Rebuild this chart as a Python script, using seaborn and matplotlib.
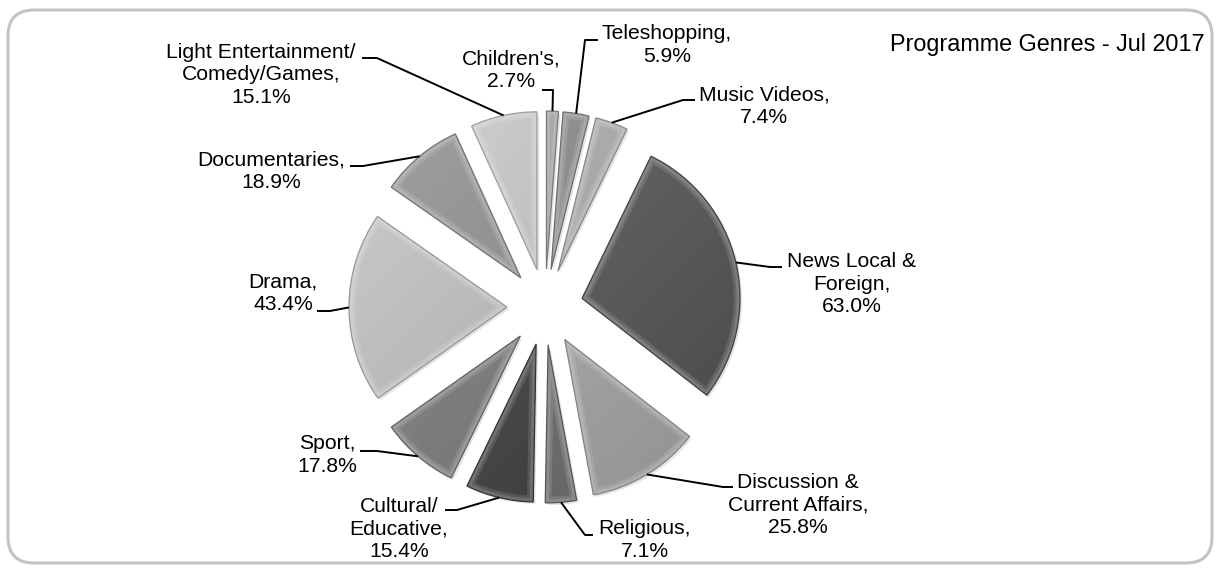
import numpy as np
import matplotlib
matplotlib.use("Agg")
import matplotlib.pyplot as plt
import matplotlib.patheffects as pe
from matplotlib.patches import Wedge, FancyBboxPatch
from matplotlib.colors import to_rgb
import seaborn as sns

# Programme genres, in clockwise order starting from 12 o'clock
genres = ["Children's,", "Teleshopping,", "Music Videos,", "News Local &\nForeign,",
          "Discussion &\nCurrent Affairs,", "Religious,", "Cultural/\nEducative,",
          "Sport,", "Drama,", "Documentaries,", "Light Entertainment/\nComedy/Games,"]
shares = [2.7, 5.9, 7.4, 63.0, 25.8, 7.1, 15.4, 17.8, 43.4, 18.9, 15.1]
greys = ["#9c9c9c", "#8a8a8a", "#acacac", "#555555", "#a8a8a8", "#6e6e6e",
         "#404040", "#7c7c7c", "#c2c2c2", "#929292", "#c9c9c9"]
title = "Programme Genres - Jul 2017"

W, H = 1219, 572
sns.set_theme(style="white")
plt.rcParams["font.family"] = ["Liberation Sans", "DejaVu Sans"]

fig = plt.figure(figsize=(W / 100, H / 100), dpi=100)
ax = fig.add_axes([0, 0, 1, 1])


def px(x, y):
    """Pixel position (origin top-left) to data coordinates."""
    return x, H - y


cx, cy = px(545, 307)
radius = 158
offset = 38

wedges, _ = ax.pie(shares, colors=greys, startangle=90, counterclock=False,
                   radius=radius, center=(cx, cy), explode=[offset] * len(shares),
                   wedgeprops=dict(linewidth=0))

for w, c in zip(wedges, greys):
    base = np.array(to_rgb(c))
    w.set_path_effects([pe.SimplePatchShadow(offset=(1.5, -1.5), shadow_rgbFace="#a0a0a0",
                                             alpha=0.28), pe.Normal()])
    # soft light-from-top-left shading
    x0, y0 = np.array(w.center) - w.r
    x1, y1 = np.array(w.center) + w.r
    gx, gy = np.meshgrid(np.linspace(0, 1, 64), np.linspace(0, 1, 64))
    grad = (gy - gx + 1) / 2
    im = ax.imshow(grad, extent=(x0, x1, y0, y1), origin="lower", cmap="gray",
                   alpha=0.14, vmin=0, vmax=1, zorder=w.get_zorder() + 0.1)
    im.set_clip_path(w)
    # bevel rim: a light band just inside the outline
    for lw, a in ((9, 0.12), (5, 0.14)):
        rim = Wedge(w.center, w.r, w.theta1, w.theta2, facecolor="none",
                    edgecolor="white", linewidth=lw, alpha=a, zorder=w.get_zorder() + 0.2)
        ax.add_patch(rim)
        rim.set_clip_path(w)
    edge = Wedge(w.center, w.r, w.theta1, w.theta2, facecolor="none",
                 edgecolor=tuple(base * 0.78), linewidth=0.9, zorder=w.get_zorder() + 0.3)
    ax.add_patch(edge)

# data labels and leader lines
label_pos = [(511, 70), (667, 45), (764, 106), (852, 284), (798, 505), (645, 540),
             (399, 529), (327, 455), (283, 293), (271, 171), (261, 75)]
leader_pts = [[(542, 90), (553, 90)], [(598, 40), (585, 40)], [(695, 100), (683, 100)],
              [(782, 267), (770, 267)], [(733, 487), (723, 487)], [(593, 535), (585, 535)],
              [(445, 510), (457, 510)], [(360, 451), (377, 451)], [(317, 311), (330, 311)],
              [(350, 166), (363, 166)], [(362, 58), (377, 58)]]

for w, g, v, pos, pts in zip(wedges, genres, shares, label_pos, leader_pts):
    ax.text(*px(*pos), f"{g}\n{v:.1f}%", ha="center", va="center", fontsize=15.2,
            linespacing=1.22, color="black", zorder=10)
    mid = np.deg2rad((w.theta1 + w.theta2) / 2)
    end = (w.center[0] + w.r * np.cos(mid), w.center[1] + w.r * np.sin(mid))
    xs = [px(*p)[0] for p in pts] + [end[0]]
    ys = [px(*p)[1] for p in pts] + [end[1]]
    ax.plot(xs, ys, color="black", linewidth=1.4, zorder=9, solid_capstyle="butt")

ax.text(*px(1047, 45), title, ha="center", va="center", fontsize=16.8, color="black")

frame = FancyBboxPatch(px(8, 563), 1204, 553, boxstyle="round,pad=0,rounding_size=26",
                       facecolor="none", edgecolor="#c3c3c3", linewidth=2.2, zorder=20)
ax.add_patch(frame)

ax.set_xlim(0, W)
ax.set_ylim(0, H)
ax.set_aspect("equal")
ax.axis("off")
fig.savefig("out.png", dpi=100, facecolor="white")
